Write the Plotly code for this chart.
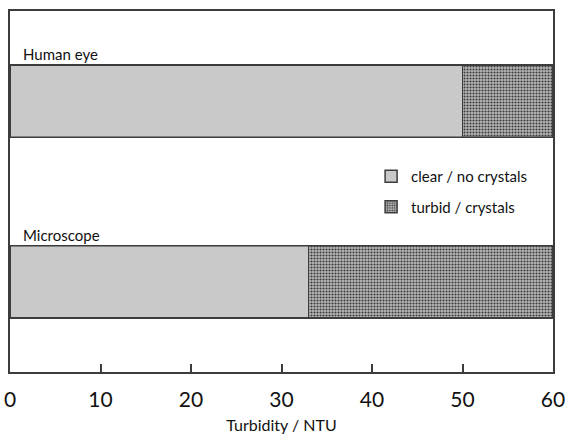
import plotly.graph_objects as go

categories = ["Microscope", "Human eye"]
clear_values = [33, 50]
turbid_values = [27, 10]
x_ticks = [0, 10, 20, 30, 40, 50, 60]
series_names = ["clear / no crystals", "turbid / crystals"]

BAR_W = 0.4
LINE = "#3c3c3c"
FONT = "Lato"

fig = go.Figure()
fig.add_trace(go.Bar(
    y=categories, x=clear_values, orientation="h", name=series_names[0],
    width=BAR_W, marker=dict(color="#c9c9c9", line=dict(color=LINE, width=1.5)),
    legendgroup="a",
))
fig.add_trace(go.Bar(
    y=categories, x=turbid_values, orientation="h", name=series_names[1],
    width=BAR_W,
    marker=dict(color="#9a9a9a", line=dict(color=LINE, width=1.5),
                pattern=dict(shape=".", fgcolor="#3a3a3a", bgcolor="#b8b8b8",
                             size=3, solidity=0.4, fillmode="replace")),
    legendgroup="b",
))

# full-width lines along bar edges and category labels
for i, c in enumerate(categories):
    for d in (-BAR_W / 2, BAR_W / 2):
        fig.add_shape(type="line", xref="paper", x0=0, x1=1, yref="y",
                      y0=i + d, y1=i + d, line=dict(color=LINE, width=1.5))
    fig.add_annotation(text=c, xref="paper", x=0.02, xanchor="left",
                       yref="y", y=i + BAR_W / 2, yanchor="bottom", yshift=0,
                       showarrow=False, font=dict(family=FONT, size=15, color="#111"))

fig.update_layout(
    barmode="stack",
    width=567, height=435,
    margin=dict(l=10, r=14, t=11, b=63, autoexpand=False),
    paper_bgcolor="white", plot_bgcolor="white",
    font=dict(family=FONT, color="#111"),
    showlegend=True,
    legend=dict(x=0.665, y=0.5, xanchor="left", yanchor="middle",
                font=dict(family=FONT, size=15, color="#111"),
                traceorder="grouped", tracegroupgap=8,
                bgcolor="rgba(0,0,0,0)", itemwidth=30),
    xaxis=dict(range=[0, 60], tickvals=x_ticks, ticks="inside", ticklen=8,
               tickcolor=LINE, tickwidth=1.5, automargin=False,
               showline=True, linecolor=LINE, linewidth=1.5, mirror=True,
               showgrid=False, zeroline=False,
               tickfont=dict(family=FONT, size=21, color="#111"),
               ticklabelstandoff=8,
               title=dict(text="Turbidity / NTU", standoff=10,
                          font=dict(family=FONT, size=16, color="#111"))),
    yaxis=dict(range=[-0.5, 1.5], showticklabels=False, ticks="", automargin=False,
               showline=True, linecolor=LINE, linewidth=1.5, mirror=True,
               showgrid=False, zeroline=False),
)

fig.write_html("out.html", config={"displayModeBar": False},
               post_script="document.body.style.margin='0';document.body.style.overflow='hidden';")
